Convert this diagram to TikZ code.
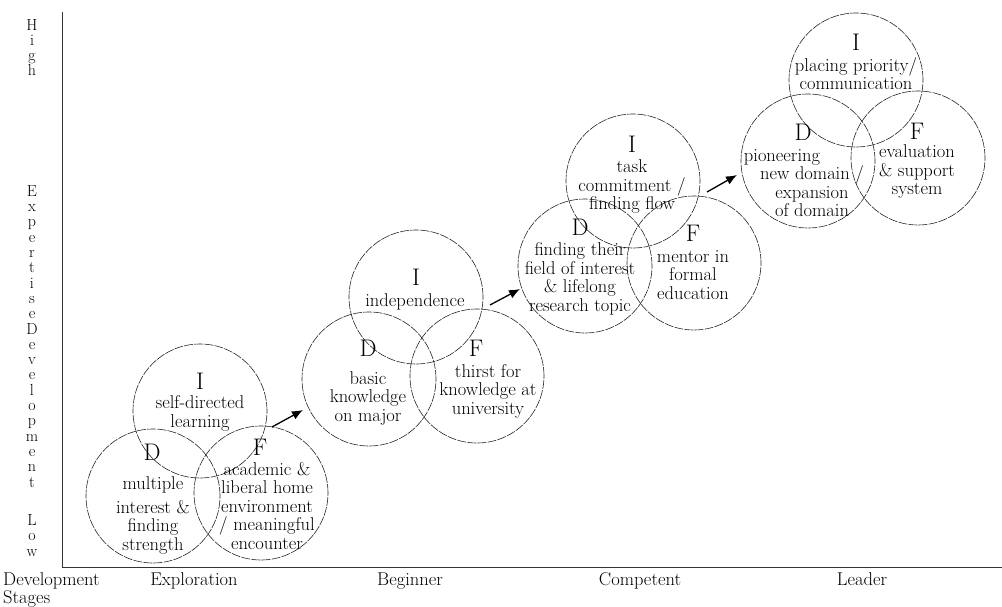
\documentclass[tikz,border=0pt]{standalone}
\usepackage{fontspec}
\usetikzlibrary{arrows.meta}
\begin{document}
\begin{tikzpicture}[x=1pt,y=-1pt,
  ring/.style={draw=black!85, line width=0.6pt, dash pattern=on 9pt off 1.2pt, circle, minimum size=134pt, inner sep=0pt},
  big/.style={font=\fontsize{24}{24}\selectfont, inner sep=0pt, anchor=base},
  txt/.style={font=\fontsize{18.5}{18.5}\selectfont, align=center, inner sep=0pt, anchor=base},
  axisline/.style={draw=black!80, line width=0.9pt},
  flow/.style={draw=black, line width=1.3pt, -{Latex[length=11pt,width=9pt]}},
  vlab/.style={font=\fontsize{16}{15.3}\selectfont, align=center, inner sep=0pt, anchor=base},
  stage/.style={font=\fontsize{18.5}{18.5}\selectfont, inner sep=0pt, anchor=base}
]
\useasboundingbox (0,0) rectangle (1002,607);

% axes
\coordinate (o) at (62,567);
\coordinate (ytop) at (62,12);
\coordinate (xend) at (1002,567);
\draw[axisline] (ytop) -- (o) -- (xend);

% vertical axis labels (anchor = baseline of last line)
\node[vlab] (high) at (32,76) {H\\i\\g\\h};
\node[vlab] (expdev) at (32,487) {E\\x\\p\\e\\r\\t\\i\\s\\e\\D\\e\\v\\e\\l\\o\\p\\m\\e\\n\\t};
\node[vlab] (low) at (32,556) {L\\o\\w};

% stage labels
\node[stage, anchor=base west] (devst) at (3,585) {Development};
\node[stage, anchor=base west] (stages) at (3,603) {Stages};
\node[stage] (s1) at (194,585) {Exploration};
\node[stage] (s2) at (410,585) {Beginner};
\node[stage] (s3) at (640,585) {Competent};
\node[stage] (s4) at (862,585) {Leader};

% cluster 1: Exploration
\node[ring] (c1i) at (200,411) {};
\node[ring] (c1d) at (153,496) {};
\node[ring] (c1f) at (261,493) {};
\node[big] (l1i) at (200,389) {I};
\node[txt] (t1i) at (200,427) {self-directed\\learning};
\node[big] (l1d) at (152,460) {D};
\node[txt] (t1d) at (153,550) {multiple\\[5pt]interest \&\\finding\\strength};
\node[big] (l1f) at (260,455) {F};
\node[txt] (t1f) at (267,549) {academic \&\\liberal home\\environment\\/ meaningful\\encounter};

% cluster 2: Beginner
\node[ring] (c2i) at (416,297) {};
\node[ring] (c2d) at (369,379) {};
\node[ring] (c2f) at (477,376) {};
\node[big] (l2i) at (416,285) {I};
\node[txt] (t2i) at (415,306) {independence};
\node[big] (l2d) at (368,356) {D};
\node[txt] (t2d) at (368,421) {basic\\knowledge\\on major};
\node[big] (l2f) at (476,356) {F};
\node[txt] (t2f) at (488,414) {thirst for\\knowledge at\\university};

% cluster 3: Competent
\node[ring] (c3i) at (633,181) {};
\node[ring] (c3d) at (585,266) {};
\node[ring] (c3f) at (694,263) {};
\node[big] (l3i) at (632,153) {I};
\node[txt] (t3i) at (632,210) {task\\commitment /\\finding flow};
\node[big] (l3d) at (580,236) {D};
\node[txt] (t3d) at (580,311) {finding their\\field of interest\\\& lifelong\\research topic};
\node[big] (l3f) at (693,241) {F};
\node[txt] (t3f) at (693,299) {mentor in\\formal\\education};

% cluster 4: Leader
\node[ring] (c4i) at (856,80) {};
\node[ring] (c4d) at (808,161) {};
\node[ring] (c4f) at (918,158) {};
\node[big] (l4i) at (856,51) {I};
\node[txt] (t4i) at (856,90) {placing priority/\\communication};
\node[big] (l4d) at (803,141) {D};
\node[txt] (t4d) at (812,217) {pioneering\hspace*{60pt}\\new domain /\\expansion\\of domain};
\node[big] (l4f) at (917,140) {F};
\node[txt] (t4f) at (917,195) {evaluation\\\& support\\system};

% arrows between stages
\coordinate (a1s) at (272,427);
\coordinate (a1e) at (303,410);
\coordinate (a2s) at (490,305);
\coordinate (a2e) at (520,289);
\coordinate (a3s) at (707,192);
\coordinate (a3e) at (737,175);
\draw[flow] (a1s) -- (a1e);
\draw[flow] (a2s) -- (a2e);
\draw[flow] (a3s) -- (a3e);
\end{tikzpicture}
\end{document}
